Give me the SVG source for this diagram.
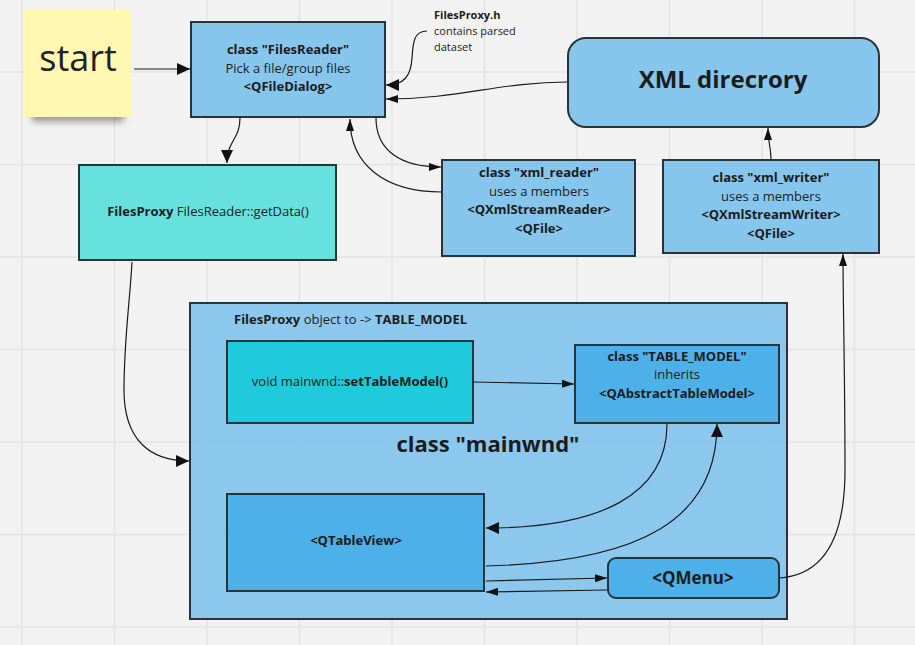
<svg xmlns="http://www.w3.org/2000/svg" width="915" height="645" viewBox="0 0 915 645">
<style>
text{font-family:"Open Sans","Liberation Sans",sans-serif;fill:#222;}
.t{font-size:13px;text-anchor:middle;}
.b{font-weight:bold;fill:#1c1c1c;}
.box{stroke:#27343a;stroke-width:2;}
.light{fill:#86c5ec;}
.mid{fill:#4db0e8;}
.grid line{stroke:#e3e3e3;stroke-width:1.5;}
.c{fill:none;stroke:#1a1a1a;stroke-width:1.2;}
.big{marker-end:url(#ab);}
.sm{marker-end:url(#as);}
</style>
<defs>
<marker id="ab" markerUnits="userSpaceOnUse" markerWidth="13" markerHeight="12" refX="13" refY="6" orient="auto"><path d="M0,0 L13,6 L0,12 z" fill="#111"/></marker>
<marker id="as" markerUnits="userSpaceOnUse" markerWidth="12" markerHeight="8" refX="12" refY="4" orient="auto"><path d="M0,0 L12,4 L0,8 z" fill="#111"/></marker>
<filter id="sh" x="-20%" y="-20%" width="140%" height="160%"><feGaussianBlur stdDeviation="3"/></filter>
</defs>
<rect width="915" height="645" fill="#f2f2f2"/>
<g class="grid">
<line x1="22" y1="0" x2="22" y2="645"/><line x1="114.5" y1="0" x2="114.5" y2="645"/><line x1="207" y1="0" x2="207" y2="645"/><line x1="299.5" y1="0" x2="299.5" y2="645"/><line x1="392" y1="0" x2="392" y2="645"/><line x1="484.5" y1="0" x2="484.5" y2="645"/><line x1="577" y1="0" x2="577" y2="645"/><line x1="669.5" y1="0" x2="669.5" y2="645"/><line x1="762" y1="0" x2="762" y2="645"/><line x1="854.5" y1="0" x2="854.5" y2="645"/>
<line x1="0" y1="72" x2="915" y2="72"/><line x1="0" y1="164.5" x2="915" y2="164.5"/><line x1="0" y1="257" x2="915" y2="257"/><line x1="0" y1="349.5" x2="915" y2="349.5"/><line x1="0" y1="442" x2="915" y2="442"/><line x1="0" y1="534.5" x2="915" y2="534.5"/><line x1="0" y1="627" x2="915" y2="627"/>
</g>

<g id="start">
<rect x="32" y="106" width="92" height="16" fill="#000" opacity="0.35" filter="url(#sh)"/>
<rect x="24" y="10" width="108" height="107" fill="#fff7b2"/>
<text x="78" y="71" font-size="36" text-anchor="middle" fill="#263238">start</text>
</g>

<g id="filesreader">
<rect class="box light" x="191" y="22" width="194" height="95"/>
<text class="t b" x="288" y="54">class "FilesReader"</text>
<text class="t" x="288" y="72.5">Pick a file/group files</text>
<text class="t b" x="288" y="91">&lt;QFileDialog&gt;</text>
</g>

<g id="note">
<text x="434" y="19" font-size="11" class="b">FilesProxy.h</text>
<text x="434" y="35" font-size="11">contains parsed</text>
<text x="434" y="51" font-size="11">dataset</text>
</g>

<g id="xmldir">
<rect class="box light" x="568" y="38" width="311" height="89" rx="18"/>
<text x="723" y="88" font-size="24" text-anchor="middle" class="b">XML direcrory</text>
</g>

<g id="filesproxy">
<rect class="box" x="79" y="165" width="257" height="95" fill="#66e1de"/>
<text class="t" x="208" y="216"><tspan class="b">FilesProxy</tspan> FilesReader::getData()</text>
</g>

<g id="xmlreader">
<rect class="box light" x="442" y="160" width="193" height="96"/>
<text class="t b" x="539" y="177">class "xml_reader"</text>
<text class="t" x="539" y="195.5">uses a members</text>
<text class="t b" x="539" y="214">&lt;QXmlStreamReader&gt;</text>
<text class="t b" x="539" y="232.5">&lt;QFile&gt;</text>
</g>

<g id="xmlwriter">
<rect class="box light" x="663" y="160" width="216" height="93"/>
<text class="t b" x="771" y="182">class "xml_writer"</text>
<text class="t" x="771" y="200.5">uses a members</text>
<text class="t b" x="771" y="219">&lt;QXmlStreamWriter&gt;</text>
<text class="t b" x="771" y="237.5">&lt;QFile&gt;</text>
</g>

<g id="mainwnd">
<rect class="box" x="190" y="303" width="597" height="316" fill="#86c5ec" fill-opacity="0.95"/>
<text x="234" y="324" font-size="13"><tspan class="b">FilesProxy</tspan> object to -&gt; <tspan class="b">TABLE_MODEL</tspan></text>
<text x="488" y="452" font-size="22" text-anchor="middle" class="b">class "mainwnd"</text>
</g>

<g id="settablemodel">
<rect class="box" x="227" y="341" width="246" height="82" fill="#1ecadc"/>
<text class="t" x="350" y="386">void mainwnd::<tspan class="b">setTableModel()</tspan></text>
</g>

<g id="tablemodel">
<rect class="box mid" x="575" y="345" width="204" height="78"/>
<text class="t b" x="677" y="361">class "TABLE_MODEL"</text>
<text class="t" x="677" y="379">inherits</text>
<text class="t b" x="677" y="397.5">&lt;QAbstractTableModel&gt;</text>
</g>

<g id="qtableview">
<rect class="box mid" x="227" y="494" width="257" height="97"/>
<text class="t b" x="356" y="545">&lt;QTableView&gt;</text>
</g>

<g id="qmenu">
<rect class="box mid" x="608" y="558" width="171" height="40" rx="8"/>
<text x="693" y="584" font-size="17" text-anchor="middle" class="b">&lt;QMenu&gt;</text>
</g>

<g id="connectors">
<path class="c big" d="M134,69 L190,69"/>
<path class="c big" d="M240,118 C240,140 227,140 227,163"/>
<path class="c big" d="M427,31 C414,31 413,42 412,58 C411,76 404,85 386,85"/>
<path class="c sm" d="M567,82 C500,82 460,99 386,99"/>
<path class="c sm" d="M376,118 C376,150 400,167 441,167"/>
<path class="c sm" d="M442,192 C385,192 350,165 350,119"/>
<path class="c sm" d="M771,159 C771,150 768,140 768,128"/>
<path class="c sm" d="M779,578 C828,575 845,530 845,470 C845,380 843,300 843,254"/>
<path class="c big" d="M132,262 C130,300 124,340 124,390 C124,440 150,461 189,461"/>
<path class="c sm" d="M473,382 L574,384"/>
<path class="c big" d="M667,424 C667,495 600,528 486,528"/>
<path class="c big" d="M486,566 C640,562 717,520 717,424"/>
<path class="c sm" d="M486,581 L607,578"/>
<path class="c sm" d="M607,590 L486,592"/>
</g>
</svg>
